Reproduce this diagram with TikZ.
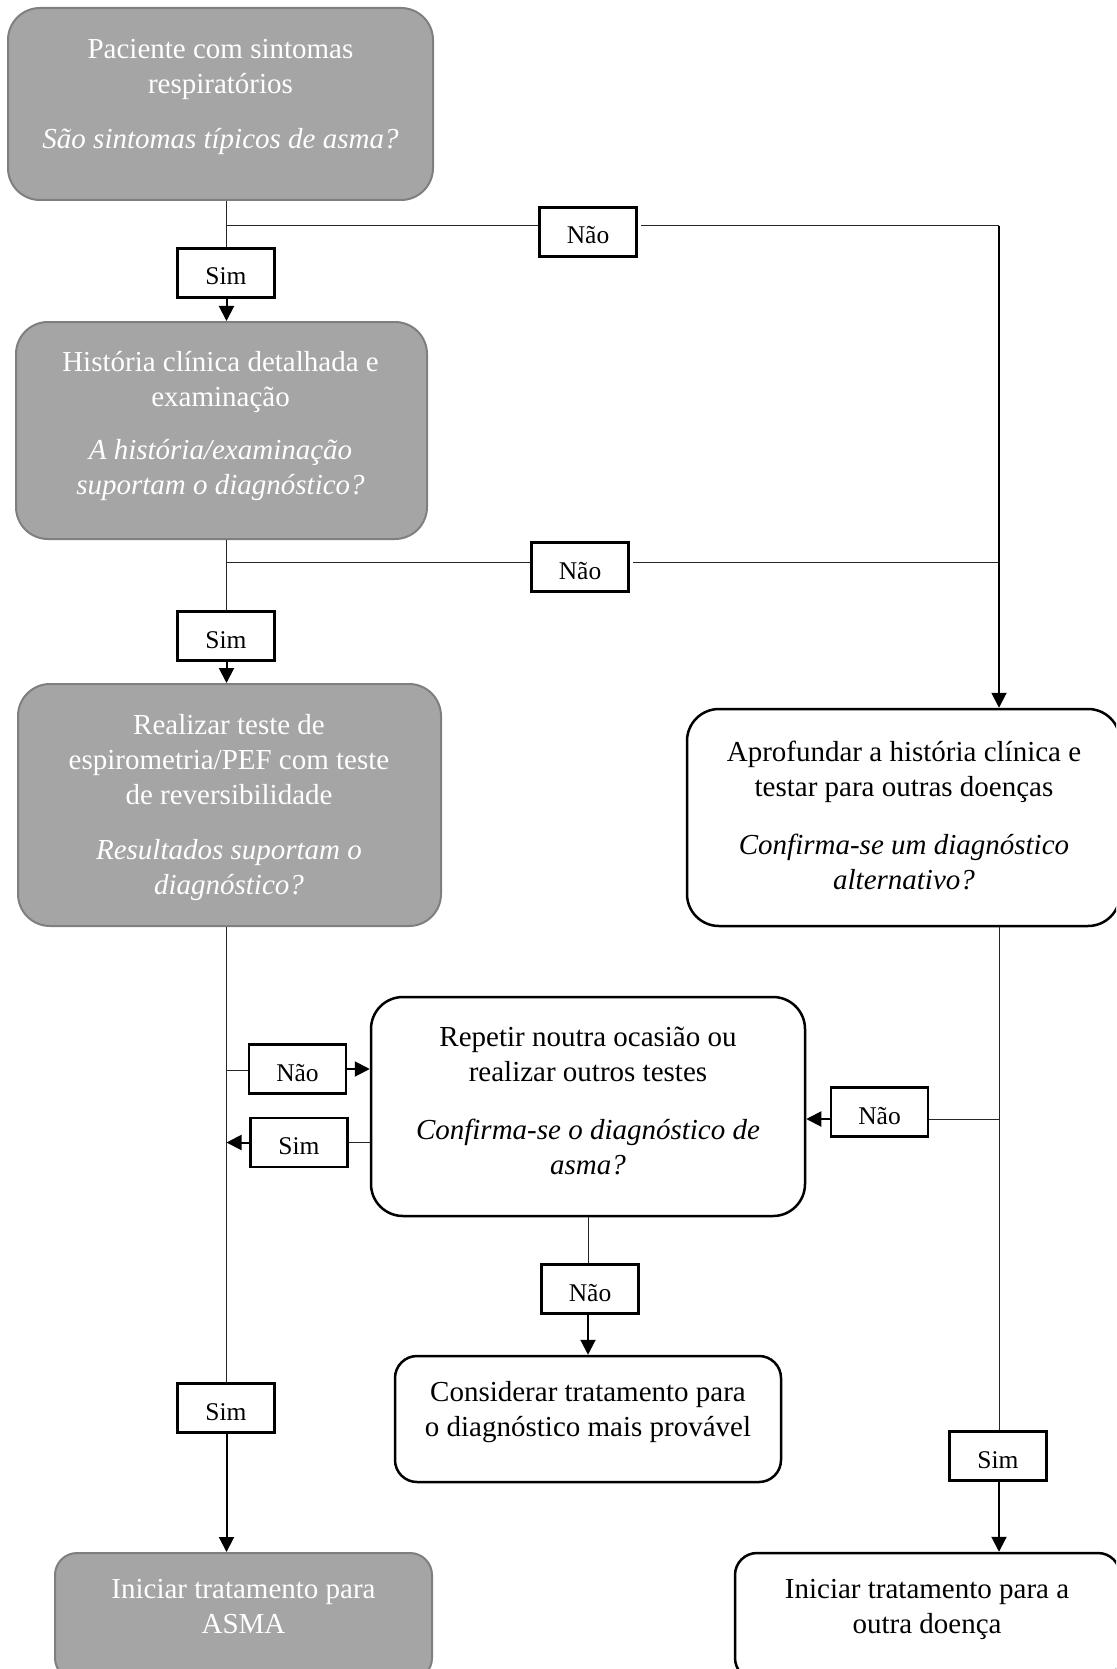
\documentclass[tikz,border=0pt]{standalone}
\usepackage{fontspec}
\setmainfont{Liberation Serif}
\usetikzlibrary{arrows.meta}
\definecolor{boxgray}{HTML}{A5A5A5}
\definecolor{edgegray}{HTML}{7F7F7F}
\tikzset{
  graybox/.style={draw=edgegray, line width=2pt, fill=boxgray, rounded corners=32pt, inner sep=0pt},
  whitebox/.style={draw=black, line width=2.5pt, fill=white, rounded corners=32pt, inner sep=0pt},
  smallround/.style={rounded corners=22pt},
  txt/.style={inner sep=0pt, anchor=base, font=\fontsize{29}{35}\selectfont},
  wtxt/.style={txt, text=white},
  lab/.style={draw=black, line width=2.5pt, fill=white, minimum width=97pt, minimum height=49pt, inner sep=0pt, text height=24pt, text depth=0pt, font=\fontsize{25.5}{30}\selectfont},
  thinline/.style={draw=black!85, line width=1pt},
  arr/.style={draw=black, line width=2pt, -{Triangle[length=15pt,width=15pt]}}
}
\begin{document}
\begin{tikzpicture}[x=1pt,y=-1pt]
\useasboundingbox (0,0) rectangle (1116,1669);
\clip (0,0) rectangle (1116,1669);
% boxes
\node[graybox, minimum width=425pt, minimum height=192pt] (box1) at (220.5,104) {};
\node[graybox, minimum width=411pt, minimum height=217pt] (box2) at (221.5,430.5) {};
\node[graybox, minimum width=423pt, minimum height=242pt] (box3) at (229.5,805) {};
\node[whitebox, minimum width=433pt, minimum height=217pt] (apro) at (903.5,817.5) {};
\node[whitebox, minimum width=434pt, minimum height=219pt] (rep) at (588,1106.5) {};
\node[whitebox, smallround, minimum width=386pt, minimum height=126pt] (cons) at (588,1419) {};
\node[graybox, smallround, minimum width=377pt, minimum height=127pt] (asma) at (243.5,1616.5) {};
\node[whitebox, smallround, minimum width=385pt, minimum height=127pt] (outra) at (927.5,1616.5) {};
% texts
\node[wtxt] (t1) at (220.5,59) {\begin{tabular}[t]{@{}c@{}}Paciente com sintomas\\ respiratórios\\[20pt] \textit{São sintomas típicos de asma?}\end{tabular}};
\node[wtxt] (t2) at (220.5,371) {\begin{tabular}[t]{@{}c@{}}História clínica detalhada e\\ examinação\\[18pt] \textit{A história/examinação}\\ \textit{suportam o diagnóstico?}\end{tabular}};
\node[wtxt] (t3) at (229,734) {\begin{tabular}[t]{@{}c@{}}Realizar teste de\\ espirometria/PEF com teste\\ de reversibilidade\\[20pt] \textit{Resultados suportam o}\\ \textit{diagnóstico?}\end{tabular}};
\node[txt] (t4) at (904,761) {\begin{tabular}[t]{@{}c@{}}Aprofundar a história clínica e\\ testar para outras doenças\\[23pt] \textit{Confirma-se um diagnóstico}\\ \textit{alternativo?}\end{tabular}};
\node[txt] (t5) at (588,1046) {\begin{tabular}[t]{@{}c@{}}Repetir noutra ocasião ou\\ realizar outros testes\\[23pt] \textit{Confirma-se o diagnóstico de}\\ \textit{asma?}\end{tabular}};
\node[txt] (t6) at (588,1401) {\begin{tabular}[t]{@{}c@{}}Considerar tratamento para\\ o diagnóstico mais provável\end{tabular}};
\node[wtxt] (t7) at (243.5,1598) {\begin{tabular}[t]{@{}c@{}}Iniciar tratamento para\\ ASMA\end{tabular}};
\node[txt] (t8) at (927,1598) {\begin{tabular}[t]{@{}c@{}}Iniciar tratamento para a\\ outra doença\end{tabular}};
% junction coordinates
\coordinate (j1) at (226.5,226);
\coordinate (j2) at (226.5,562.5);
\coordinate (j3) at (226.5,1070);
\coordinate (r1) at (999,226);
\coordinate (r2) at (999,562.5);
\coordinate (r3) at (999,1119);
% labels
\node[lab] (sim1) at (226,273) {Sim};
\node[lab] (nao1) at (588,232) {Não};
\node[lab] (sim2) at (226,636) {Sim};
\node[lab] (nao2) at (580,567) {Não};
\node[lab] (nao3) at (297.5,1069) {Não};
\node[lab] (sim3) at (299,1142.5) {Sim};
\node[lab] (nao4) at (879.5,1112) {Não};
\node[lab] (nao5) at (590,1289) {Não};
\node[lab] (sim4) at (226,1408) {Sim};
\node[lab] (sim5) at (998,1456) {Sim};
% connectors: left column
\draw[thinline] (j1 |- box1.south) -- (j1 |- sim1.north);
\draw[arr] (j1 |- sim1.south) -- (j1 |- box2.north);
\draw[thinline] (j2 |- box2.south) -- (j2 |- sim2.north);
\draw[arr] (j2 |- sim2.south) -- (j2 |- box3.north);
\draw[thinline] (j3 |- box3.south) -- (j3 |- sim4.north);
\draw[arr] (j3 |- sim4.south) -- (j3 |- asma.north);
% Nao branches to the right
\draw[thinline] (j1) -- (nao1.west |- j1);
\draw[thinline] ([xshift=3pt]nao1.east |- r1) -- (r1);
\draw[thinline] (j2) -- (nao2.west |- j2);
\draw[thinline] ([xshift=3pt]nao2.east |- r2) -- (r2);
\draw[arr] (r1) -- (r1 |- apro.north);
% repeat box
\draw[thinline] (j3) -- (nao3.west |- j3);
\draw[arr] (nao3.east) -- (rep.west |- nao3.east);
\draw[thinline] (rep.west |- sim3.east) -- (sim3.east);
\draw[arr] (sim3.west) -- (j3 |- sim3.west);
% right column
\draw[thinline] (r3 |- apro.south) -- (r3 |- sim5.north);
\draw[arr] (r3 |- sim5.south) -- (r3 |- outra.north);
\draw[thinline] (r3) -- (nao4.east |- r3);
\draw[arr] (nao4.west |- r3) -- (rep.east |- r3);
% bottom of repeat box
\draw[thinline] (rep.south) -- (rep.south |- nao5.north);
\draw[arr] (rep.south |- nao5.south) -- (rep.south |- cons.north);
\end{tikzpicture}
\end{document}
